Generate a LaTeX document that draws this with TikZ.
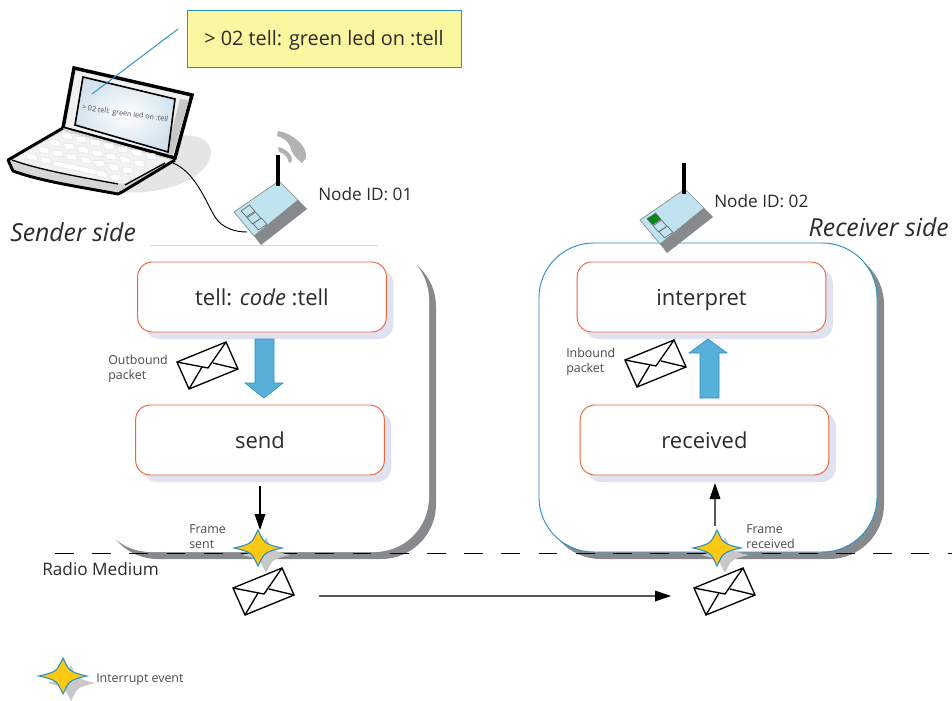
\documentclass[tikz,border=0pt]{standalone}
\usepackage{fontspec}
\setmainfont{Open Sans}
\usetikzlibrary{shadows,arrows.meta}
\definecolor{lineblue}{HTML}{2A8FC4}
\definecolor{redline}{HTML}{F0643C}
\definecolor{shadowlav}{HTML}{DFE3F1}
\definecolor{shadowgray}{HTML}{868A8C}
\definecolor{stargray}{HTML}{C8C8C8}
\definecolor{stargold}{HTML}{FDC911}
\definecolor{notefill}{HTML}{FBF6A0}
\definecolor{arrowblue}{HTML}{58B0D8}
\definecolor{devblue}{HTML}{BFE4F0}
\definecolor{screenblue}{HTML}{D3E3EE}
\definecolor{txt}{HTML}{2B2B2B}
\newcommand{\fsz}[1]{\fontsize{#1}{#1}\selectfont}
\newcommand{\lowered}[2]{\raisebox{-#1}[0pt][0pt]{#2}}
\newcommand{\starshape}{(-24,0) .. controls (-15,-2) and (-10,-3.5) .. (-7,-6) .. controls (-4.5,-8) and (-3,-12) .. (0,-18) .. controls (3,-12) and (4.5,-8) .. (7,-6) .. controls (10,-3.5) and (15,-2) .. (24,0) .. controls (15,2) and (10,3.5) .. (7,6) .. controls (4.5,8) and (3,12) .. (0,18) .. controls (-3,12) and (-4.5,8) .. (-7,6) .. controls (-10,3.5) and (-15,2) .. (-24,0) -- cycle}
\tikzset{
  x=0.75pt,y=-0.75pt,
  bigbox/.style={rounded corners=41pt,fill=white,inner sep=0pt,
    drop shadow={shadow xshift=5.25pt,shadow yshift=-5.25pt,fill=shadowgray,opacity=1}},
  procbox/.style={rectangle,rounded corners=11pt,draw=redline,line width=0.7pt,fill=white,
    minimum width=186.5pt,minimum height=52.5pt,inner sep=0pt,font=\fsz{16.5},text=txt,
    drop shadow={shadow xshift=5.25pt,shadow yshift=-5.25pt,fill=shadowlav,opacity=1}},
  lbl/.style={inner sep=0pt,text=txt,font=\fsz{12.9}},
  tiny/.style={inner sep=0pt,text=txt!85,font=\fontsize{9.3}{11.1}\selectfont,align=left,anchor=west},
  side/.style={inner sep=0pt,text=txt,font=\fsz{18.6}\itshape},
  fat/.style={draw=lineblue,line width=0.5pt,fill=arrowblue},
  thinarr/.style={draw=black,line width=0.8pt,-{Triangle[length=12pt,width=8pt]}},
  grayarr/.style={draw=black!65,line width=0.9pt,-{Triangle[length=12pt,width=8pt,black]}},
  envelope/.pic={
    \path[draw=black,line width=1pt,fill=white,line join=miter] (0,0) -- (49,-20) -- (61,7) -- (12,27) -- cycle;
    \draw[black,line width=1pt] (0,0) -- (31,6) -- (49,-20) (12,27) -- (25,5) (61,7) -- (36,1);
  },
  ievent/.pic={
    \fill[stargray,shift={(8,7)}] \starshape;
    \path[fill=stargold,draw=lineblue,line width=0.8pt] \starshape;
  },
  device/.pic={
    \path[fill=shadowgray] (20,24) -- (64,-12) -- (73,-3) -- (27,33) -- cycle;
    \path[fill=devblue,draw=shadowgray,line width=0.5pt] (0,0) -- (45,-31) -- (64,-12) -- (20,24) -- cycle;
    \foreach \cx/\cy/\fc in {14/-1/#1,20/6/devblue,26/12/devblue}
      \path[draw=black!60,line width=0.5pt,fill=\fc,shift={(\cx,\cy)}] (-6.8,-0.3) -- (1.6,-5.9) -- (6.8,0.3) -- (-1.6,5.9) -- cycle;
    \draw[black,line width=2.6pt] (44,-57) -- (44,-26);
  }
}
\begin{document}
\begin{tikzpicture}
\useasboundingbox (0,0) rectangle (952,700);
\fill[white] (0,0) rectangle (952,700);
% laptop shadow
\fill[black!10] (120,192) .. controls (170,196) and (211,175) .. (211,152) .. controls (211,140) and (195,133) .. (180,136) -- (120,170) -- cycle;
% laptop lid
\path[fill=black!6,draw=black,line width=2.6pt,line join=miter] (74,68) -- (192,95) -- (175,158) -- (63,128) -- cycle;
\fill[black!22] (180,99) -- (189,100) -- (173,155) -- (166,154) -- cycle;
\shadedraw[inner color=white,outer color=screenblue,draw=black,line width=1.2pt] (83,77) -- (175,99) -- (168,152) -- (75,125) -- cycle;
\node[inner sep=0pt,rotate=-8,text=black!70,font=\fsz{5.4}] (screentext) at (125,114) {> 02 tell: green led on :tell};
% laptop base
\path[fill=black!16] (8,160) -- (63,128) -- (175,160) -- (122,192) -- (118,194) .. controls (80,187) and (40,181) .. (13,171) -- cycle;
\path[fill=black!5] (12,160) -- (63,131) -- (170,160) -- (165,163) -- (125,183) -- (118,184) .. controls (80,177) and (40,170) .. (12,160) -- cycle;
\draw[black,line width=2.2pt,line join=round] (63,128) -- (8,160) -- (13,171) .. controls (40,181) and (80,187) .. (118,194) -- (122,192) -- (175,160);
\draw[black,line width=1pt] (12,160) .. controls (40,170) and (80,177) .. (118,184);
\draw[black,line width=1pt] (125,185) -- (165,163);
\foreach \j in {0,1,2}
  \foreach \i in {0,...,6}
    \fill[white,draw=black!12,line width=0.3pt,shift={(67+14*\i-11.7*\j,136+3.4*\i+7*\j)}] (-6,-3.2) -- (4,-2.6) -- (6,3.2) -- (-4,2.6) -- cycle;
\foreach \i in {0,1,5,6}
    \fill[white,draw=black!12,line width=0.3pt,shift={(31.9+14*\i,157+3.4*\i)}] (-6,-3.2) -- (4,-2.6) -- (6,3.2) -- (-4,2.6) -- cycle;
\fill[white,draw=black!12,line width=0.3pt] (55,161) -- (98,170) -- (96,175) -- (51,165) -- cycle;
% big boxes
\node[bigbox,minimum width=249.75pt,minimum height=230.25pt] (senderbox) at (262.5,398.5) {};
\node[bigbox,draw=lineblue,line width=0.7pt,minimum width=253.5pt,minimum height=231.75pt] (receiverbox) at (708,397.5) {};
\coordinate (topA) at (150,245);
\coordinate (topB) at (378,245);
\draw[blue!30!cyan!30,line width=0.6pt] (topA) -- (topB);
% process boxes
\node[procbox] (tell) at (262,297) {\lowered{6.5pt}{tell: \textit{code} :tell}};
\node[procbox] (send) at (260,440) {\lowered{6.5pt}{send}};
\node[procbox] (interpret) at (701.5,297) {\lowered{6.5pt}{interpret}};
\node[procbox] (received) at (704.5,440) {\lowered{6.5pt}{received}};
% fat arrows
\path[fat] (255,339) -- (274,339) -- (274,383) -- (283,383) -- (264,398) -- (245,383) -- (255,383) -- cycle;
\path[fat] (700,398) -- (719,398) -- (719,353) -- (727,353) -- (708,339) -- (689,353) -- (700,353) -- cycle;
% devices
\coordinate (cableA) at (173,163);
\coordinate (cableB) at (247,232);
\draw[black,line width=0.7pt] (cableA) .. controls (195,172) and (205,200) .. (215,217) .. controls (222,228) and (235,232) .. (cableB);
\pic (dev1) at (234,212) {device=devblue};
\pic (dev2) at (640,220) {device=green!60!black!90!blue};
% waves
\fill[black!30] (278,131) .. controls (292,133) and (308,146) .. (306,158) -- (302,163) .. controls (296,158) and (291,153) .. (290,146) .. controls (288,141) and (282,137) .. (277,136) -- cycle;
\fill[black!30] (278,147) .. controls (285,148) and (293,155) .. (292,161) -- (289,163) .. controls (288,157) and (284,153) .. (279,152) -- cycle;
% dashed medium
\coordinate (medA) at (55,553);
\coordinate (medB) at (952,553);
\draw[black,line width=0.6pt,dash pattern=on 14.1pt off 13.8pt] (medA) -- (medB);
% callout
\coordinate (noteTail) at (178,29);
\coordinate (screenPt) at (92,94);
\draw[lineblue,line width=0.7pt] (noteTail) -- (screenPt);
\node[rectangle,draw=lineblue,line width=0.7pt,fill=notefill,minimum width=205.5pt,minimum height=42.75pt,inner sep=0pt,font=\fsz{14.9},text=txt] (note) at (324,38.5) {\lowered{5pt}{> 02 tell: green led on :tell}};
% events
\pic (ev1) at (258,548) {ievent};
\pic (ev2) at (717,548) {ievent};
\pic (ev3) at (63,676) {ievent};
% envelopes
\pic (env1) at (177,362) {envelope};
\pic (env2) at (625,360) {envelope};
\pic (env3) at (233,588) {envelope};
\pic (env4) at (694,588) {envelope};
% thin arrows
\coordinate (a1s) at (260,486);
\coordinate (a1e) at (260,530);
\draw[thinarr] (a1s) -- (a1e);
\coordinate (a2s) at (715,526);
\coordinate (a2e) at (715,483);
\draw[grayarr] (a2s) -- (a2e);
\coordinate (a3s) at (319,596);
\coordinate (a3e) at (671,596);
\draw[grayarr] (a3s) -- (a3e);
% labels
\node[lbl,anchor=west] (id1) at (318,194) {Node ID: 01};
\node[lbl,anchor=west] (id2) at (714,201) {Node ID: 02};
\node[side,anchor=west] (sside) at (10,232) {Sender side};
\node[side,anchor=east] (rside) at (949,227) {Receiver side};
\node[lbl,anchor=west] (radio) at (42,569) {Radio Medium};
\node[tiny] (outb) at (108,368.5) {Outbound\\packet};
\node[tiny] (inb) at (566,362) {Inbound\\packet};
\node[tiny] (fsent) at (189,536.5) {Frame\\sent};
\node[tiny] (frecv) at (746,536.5) {Frame\\received};
\node[tiny] (legend) at (96,680) {Interrupt event};
\end{tikzpicture}
\end{document}
